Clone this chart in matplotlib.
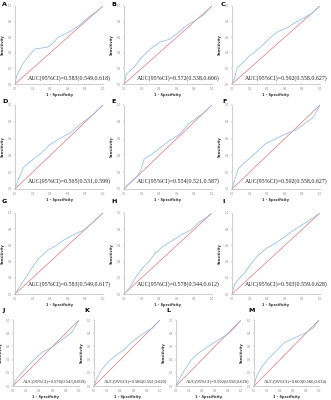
import matplotlib
matplotlib.use('Agg')
import matplotlib.pyplot as plt
import numpy as np

# panel letters and AUC annotations
letters = ['A', 'B', 'C', 'D', 'E', 'F', 'G', 'H', 'I', 'J', 'K', 'L', 'M']
auc_text = ['AUC(95%CI)=0.583(0.549,0.618)', 'AUC(95%CI)=0.572(0.538,0.606)',
            'AUC(95%CI)=0.592(0.558,0.627)', 'AUC(95%CI)=0.565(0.531,0.599)',
            'AUC(95%CI)=0.554(0.521,0.587)', 'AUC(95%CI)=0.592(0.558,0.627)',
            'AUC(95%CI)=0.583(0.549,0.617)', 'AUC(95%CI)=0.578(0.544,0.612)',
            'AUC(95%CI)=0.593(0.559,0.628)', 'AUC(95%CI)=0.576(0.543,0.609)',
            'AUC(95%CI)=0.586(0.552,0.620)', 'AUC(95%CI)=0.592(0.558,0.626)',
            'AUC(95%CI)=0.600(0.566,0.634)']

# ROC curves: 1-specificity and sensitivity
fpr_A = [0, 0.02, 0.09, 0.17, 0.23, 0.36, 0.40, 0.49, 0.62, 0.74, 0.85, 0.94, 1]
tpr_A = [0, 0.11, 0.26, 0.38, 0.45, 0.47, 0.49, 0.60, 0.67, 0.76, 0.87, 0.94, 1]
fpr_B = [0, 0.03, 0.11, 0.20, 0.30, 0.41, 0.51, 0.60, 0.71, 0.83, 0.90, 1]
tpr_B = [0, 0.13, 0.21, 0.34, 0.45, 0.54, 0.57, 0.64, 0.75, 0.83, 0.88, 1]
fpr_C = [0, 0.03, 0.06, 0.12, 0.20, 0.28, 0.36, 0.44, 0.52, 0.58, 0.64, 0.74, 0.82, 0.90, 1]
tpr_C = [0, 0.08, 0.21, 0.27, 0.36, 0.43, 0.51, 0.60, 0.67, 0.70, 0.73, 0.80, 0.85, 0.90, 1]
fpr_D = [0, 0.04, 0.10, 0.19, 0.30, 0.40, 0.49, 0.63, 0.74, 0.84, 0.91, 1]
tpr_D = [0, 0.12, 0.26, 0.34, 0.43, 0.53, 0.59, 0.67, 0.77, 0.85, 0.91, 1]
fpr_E = [0, 0.07, 0.15, 0.19, 0.23, 0.31, 0.41, 0.51, 0.63, 0.73, 0.83, 0.91, 1]
tpr_E = [0, 0.08, 0.15, 0.22, 0.36, 0.41, 0.49, 0.57, 0.65, 0.77, 0.85, 0.91, 1]
fpr_F = [0, 0.03, 0.07, 0.15, 0.25, 0.37, 0.48, 0.60, 0.72, 0.84, 0.92, 1]
tpr_F = [0, 0.10, 0.24, 0.32, 0.41, 0.53, 0.59, 0.65, 0.70, 0.79, 0.85, 1]
fpr_G = [0, 0.06, 0.12, 0.19, 0.27, 0.37, 0.47, 0.56, 0.66, 0.78, 0.87, 1]
tpr_G = [0, 0.10, 0.20, 0.32, 0.44, 0.54, 0.60, 0.67, 0.73, 0.79, 0.87, 1]
fpr_H = [0, 0.06, 0.13, 0.21, 0.29, 0.36, 0.46, 0.55, 0.65, 0.76, 0.86, 0.93, 1]
tpr_H = [0, 0.07, 0.20, 0.32, 0.41, 0.51, 0.60, 0.66, 0.73, 0.79, 0.89, 0.94, 1]
fpr_I = [0, 0.03, 0.09, 0.15, 0.22, 0.30, 0.40, 0.50, 0.59, 0.69, 0.79, 0.88, 1]
tpr_I = [0, 0.12, 0.20, 0.27, 0.38, 0.48, 0.57, 0.63, 0.70, 0.78, 0.85, 0.91, 1]
fpr_J = [0, 0.06, 0.16, 0.29, 0.44, 0.61, 0.74, 0.89, 1]
tpr_J = [0, 0.12, 0.23, 0.37, 0.51, 0.60, 0.70, 0.81, 1]
fpr_K = [0, 0.04, 0.11, 0.21, 0.31, 0.44, 0.59, 0.74, 0.89, 1]
tpr_K = [0, 0.11, 0.24, 0.36, 0.45, 0.54, 0.68, 0.79, 0.88, 1]
fpr_L = [0, 0.05, 0.13, 0.23, 0.36, 0.51, 0.67, 0.82, 0.92, 1]
tpr_L = [0, 0.10, 0.24, 0.39, 0.51, 0.61, 0.71, 0.80, 0.90, 1]
fpr_M = [0, 0.04, 0.12, 0.22, 0.35, 0.47, 0.63, 0.78, 0.91, 1]
tpr_M = [0, 0.15, 0.29, 0.41, 0.54, 0.66, 0.73, 0.80, 0.88, 1]

fprs = [fpr_A, fpr_B, fpr_C, fpr_D, fpr_E, fpr_F, fpr_G, fpr_H, fpr_I, fpr_J, fpr_K, fpr_L, fpr_M]
tprs = [tpr_A, tpr_B, tpr_C, tpr_D, tpr_E, tpr_F, tpr_G, tpr_H, tpr_I, tpr_J, tpr_K, tpr_L, tpr_M]

W, H = 331, 400
fig = plt.figure(figsize=(3.31, 4.0), dpi=100)

# pixel boxes: left, right, top, bottom
boxes = []
for top, bot in [(6, 84), (105, 189), (213, 294)]:
    for l, r in [(15, 103), (124, 212), (232, 320)]:
        boxes.append((l, r, top, bot))
for l, r in [(13, 79), (94, 160), (176, 241), (254, 319)]:
    boxes.append((l, r, 320, 386))
letter_pos = [(2, 2), (111, 2), (221, 2), (2, 99), (111, 99), (222, 99),
              (2, 199), (111, 199), (222, 199), (2, 308), (84, 308), (166, 308), (248, 308)]

blue = '#92bce6'
red = '#e2808a'
grey = '#bbbbbb'

for i in range(13):
    l, r, t, b = boxes[i]
    ax = fig.add_axes([l / W, 1 - b / H, (r - l) / W, (b - t) / H])
    ax.plot([0, 1], [0, 1], color=red, lw=0.55)
    ax.plot(fprs[i], tprs[i], color=blue, lw=0.55)
    ax.set_xlim(0, 1)
    ax.set_ylim(0, 1)
    ticks = [0, 0.2, 0.4, 0.6, 0.8, 1.0]
    ax.set_xticks(ticks)
    ax.set_yticks(ticks)
    ax.set_xticklabels(['%.1f' % v for v in ticks])
    ax.set_yticklabels(['%.1f' % v for v in ticks])
    ax.tick_params(labelsize=2.0, length=1, width=0.3, pad=1, colors='#888888')
    for s in ['top', 'right']:
        ax.spines[s].set_visible(False)
    for s in ['left', 'bottom']:
        ax.spines[s].set_color(grey)
        ax.spines[s].set_linewidth(0.5)
    ax.set_xlabel('1 - Specificity', fontsize=2.5, fontweight='bold', labelpad=1.5, color='#333333')
    ax.set_ylabel('Sensitivity', fontsize=2.5, fontweight='bold', labelpad=2, color='#333333')
    fs = 4.3 if i < 9 else 3.3
    ty = [0.07, 0.07, 0.07, 0.09, 0.09, 0.09, 0.12, 0.12, 0.12, 0.06, 0.06, 0.06, 0.06][i]
    ax.text(0.15, ty, auc_text[i], fontsize=fs, family='Liberation Serif',
            color='#222222', va='center', ha='left', clip_on=False)
    fig.text(letter_pos[i][0] / W, 1 - letter_pos[i][1] / H, letters[i],
             fontsize=4.6, fontweight='bold', va='top', ha='left')

fig.savefig('out.png', dpi=100)
